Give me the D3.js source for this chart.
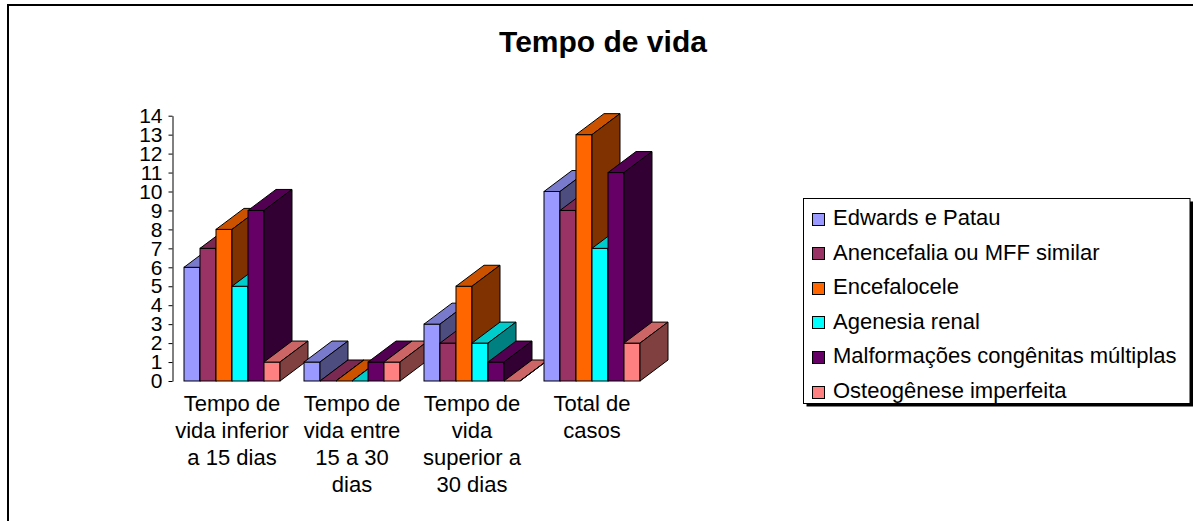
<!DOCTYPE html>
<html>
<head>
<meta charset="utf-8">
<script src="https://cdn.jsdelivr.net/npm/d3@7"></script>
<style>
  body { margin: 0; background: #fff; }
  text { font-family: "Liberation Sans", Arial, sans-serif; fill: #000; }
</style>
</head>
<body>
<div id="chart"></div>
<script>
// categories (x axis), each label split on lines as in the original
var categories = ["inferior", "entre", "superior", "total"];
var categoryLines = [
	["Tempo de", "vida inferior", "a 15 dias"],
	["Tempo de", "vida entre", "15 a 30", "dias"],
	["Tempo de", "vida", "superior a", "30 dias"],
	["Total de", "casos"]
];

// series
var seriesNames = [
	"Edwards e Patau",
	"Anencefalia ou MFF similar",
	"Encefalocele",
	"Agenesia renal",
	"Malformações congênitas múltiplas",
	"Osteogênese imperfeita"
];
var seriesColors = ["#9999ff", "#993366", "#ff6600", "#00ffff", "#660066", "#ff8080"];

// values per series, one per category
var edwardsPatau   = [6, 1, 3, 10];
var anencefalia    = [7, 0, 2, 9];
var encefalocele   = [8, 0, 5, 13];
var agenesiaRenal  = [5, 0, 2, 7];
var malformacoes   = [9, 1, 1, 11];
var osteogenese    = [1, 1, 0, 2];
var seriesValues = [edwardsPatau, anencefalia, encefalocele, agenesiaRenal, malformacoes, osteogenese];

// y ticks
var yTicks = [0, 1, 2, 3, 4, 5, 6, 7, 8, 9, 10, 11, 12, 13, 14];

// size
var width = 1193, height = 521;
var depthX = 28, depthY = -21;

var svg = d3.select("#chart")
	.append("svg")
	.attr("width", width)
	.attr("height", height);

// outer frame
svg.append("rect")
	.attr("x", 8)
	.attr("y", 5)
	.attr("width", 1200)
	.attr("height", 540)
	.attr("fill", "none")
	.attr("stroke", "#000")
	.attr("stroke-width", 2);

// title
svg.append("text")
	.attr("x", 603)
	.attr("y", 52)
	.attr("text-anchor", "middle")
	.attr("font-size", "30px")
	.attr("font-weight", "bold")
	.text("Tempo de vida");

// scales
var x0 = d3.scaleBand()
	.domain(categories)
	.range([172, 652])
	.paddingInner(0.2)
	.paddingOuter(0.1);

var x1 = d3.scaleBand()
	.domain(seriesNames)
	.range([0, x0.bandwidth()]);

var y = d3.scaleLinear()
	.domain([0, 14])
	.range([381, 115.7]);

// y axis
var yAxisCall = d3.axisLeft(y)
	.tickValues(yTicks)
	.tickSize(4)
	.tickSizeOuter(0)
	.tickPadding(6)
	.tickFormat(function(d){ return d; });

var yAxis = svg.append("g")
	.attr("class", "y-axis")
	.attr("transform", "translate(172.5, 0)")
	.call(yAxisCall);
yAxis.select(".domain").attr("stroke", "#000");
yAxis.selectAll(".tick line").attr("stroke", "#000");
yAxis.selectAll("text")
	.attr("font-size", "21px")
	.attr("font-family", "'Liberation Sans', Arial, sans-serif")
	.attr("fill", "#000");

// darker shades for the 3d faces
function shade(c, k){
	var rgb = d3.rgb(c);
	return d3.rgb(rgb.r * k, rgb.g * k, rgb.b * k).formatHex();
}

// bars, drawn group by group, left to right
var bars = svg.append("g").attr("class", "bars");

categories.forEach(function(cat, ci){
	seriesNames.forEach(function(name, si){
		var v = seriesValues[si][ci];
		var xl = x0(cat) + x1(name);
		var xr = xl + x1.bandwidth();
		var yt = y(v);
		var yb = y(0);
		var col = seriesColors[si];
		var bar = bars.append("g");

		bar.append("rect")
			.attr("x", xl)
			.attr("y", yt)
			.attr("width", xr - xl)
			.attr("height", yb - yt)
			.attr("fill", col)
			.attr("stroke", "#000")
			.attr("stroke-width", 1);

		// top face
		bar.append("path")
			.attr("d", "M" + xl + "," + yt +
				"L" + (xl + depthX) + "," + (yt + depthY) +
				"L" + (xr + depthX) + "," + (yt + depthY) +
				"L" + xr + "," + yt + "Z")
			.attr("fill", shade(col, 0.8))
			.attr("stroke", "#000")
			.attr("stroke-width", 1)
			.attr("stroke-linejoin", "round");

		// side face
		bar.append("path")
			.attr("d", "M" + xr + "," + yt +
				"L" + (xr + depthX) + "," + (yt + depthY) +
				"L" + (xr + depthX) + "," + (yb + depthY) +
				"L" + xr + "," + yb + "Z")
			.attr("fill", shade(col, 0.5))
			.attr("stroke", "#000")
			.attr("stroke-width", 1)
			.attr("stroke-linejoin", "round");
	});
});

// category labels
var catLabels = svg.append("g").attr("class", "x-labels");
categories.forEach(function(cat, ci){
	var t = catLabels.append("text")
		.attr("x", x0(cat) + x0.bandwidth() / 2)
		.attr("y", 411)
		.attr("text-anchor", "middle")
		.attr("font-size", "22px");
	categoryLines[ci].forEach(function(line, li){
		t.append("tspan")
			.attr("x", x0(cat) + x0.bandwidth() / 2)
			.attr("dy", li === 0 ? 0 : 27)
			.text(line);
	});
});

// legend
var legend = svg.append("g").attr("class", "legend");
legend.append("rect")
	.attr("x", 806.5)
	.attr("y", 201.5)
	.attr("width", 387)
	.attr("height", 205)
	.attr("fill", "#000");
legend.append("rect")
	.attr("x", 803.5)
	.attr("y", 198.5)
	.attr("width", 386.5)
	.attr("height", 205)
	.attr("fill", "#fff")
	.attr("stroke", "#000")
	.attr("stroke-width", 1);

seriesNames.forEach(function(name, i){
	var cy = 218.5 + i * 34.6;
	legend.append("rect")
		.attr("x", 812.5)
		.attr("y", Math.round(cy - 6) + 0.5)
		.attr("width", 12)
		.attr("height", 12)
		.attr("fill", seriesColors[i])
		.attr("stroke", "#000")
		.attr("stroke-width", 1);
	legend.append("text")
		.attr("x", 833)
		.attr("y", cy + 6.5)
		.attr("font-size", "22px")
		.text(name);
});
</script>
</body>
</html>
